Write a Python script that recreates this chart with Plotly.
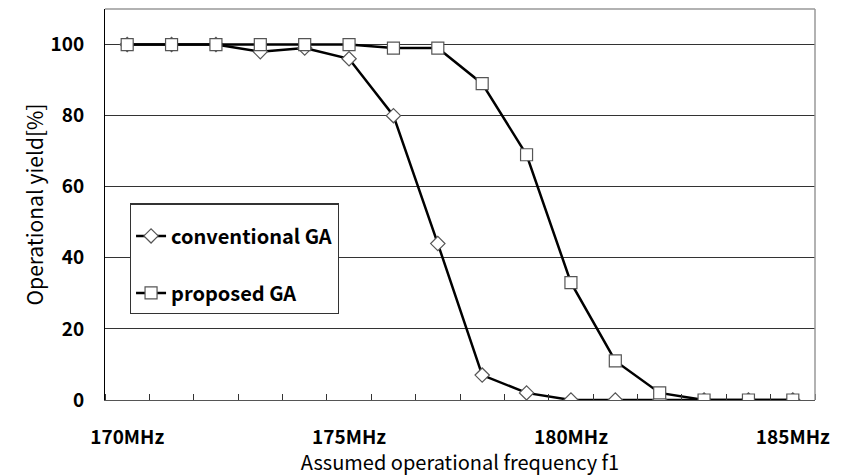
import plotly.graph_objects as go

freq_mhz = list(range(170, 186))
conventional = [100, 100, 100, 98, 99, 96, 80, 44, 7, 2, 0, 0, 0, 0, 0, 0]
proposed = [100, 100, 100, 100, 100, 100, 99, 99, 89, 69, 33, 11, 2, 0, 0, 0]
x_tick_vals = [170, 175, 180, 185]
x_tick_text = ["170MHz", "175MHz", "180MHz", "185MHz"]
y_tick_vals = [0, 20, 40, 60, 80, 100]

FONT = "Noto Sans CJK JP"

fig = go.Figure()
fig.add_trace(go.Scatter(
    x=freq_mhz, y=conventional, name="conventional GA", mode="lines+markers",
    line=dict(color="black", width=2.5), legendgroup="a",
    marker=dict(symbol="diamond", size=11, color="white", line=dict(color="#555", width=1.2)),
))
fig.add_trace(go.Scatter(
    x=freq_mhz, y=proposed, name="proposed GA", mode="lines+markers",
    line=dict(color="black", width=2.5), legendgroup="b",
    marker=dict(symbol="square", size=12, color="white", line=dict(color="#555", width=1.2)),
))

# page body has an 8px margin; figure is sized/offset to compensate
fig.update_layout(
    width=840, height=468,
    margin=dict(l=97, t=1, r=33, b=76, autoexpand=False),
    paper_bgcolor="white", plot_bgcolor="white",
    font=dict(family=FONT, color="black"),
    legend=dict(
        x=0.035, y=0.5026, xref="paper", yref="paper",
        xanchor="left", yanchor="top",
        bordercolor="#333", borderwidth=1.2, bgcolor="white",
        font=dict(size=20, family=FONT, weight="bold"),
        title=dict(text=" ", font=dict(size=9)),
        traceorder="grouped", tracegroupgap=28,
    ),
    showlegend=True,
    xaxis=dict(
        range=[169.5, 185.5], tickvals=x_tick_vals, ticktext=x_tick_text,
        ticks="", showgrid=False, zeroline=False, automargin=False,
        showline=True, linecolor="#555", linewidth=1,
        ticklabelstandoff=20,
        tickfont=dict(size=19, family=FONT, weight="bold"),
        title=dict(text="Assumed operational frequency f1", font=dict(size=20, family=FONT), standoff=5),
        minor=dict(ticks="inside", tick0=170.5, dtick=1, ticklen=6, tickcolor="#333", showgrid=False),
    ),
    yaxis=dict(
        range=[0, 110], tickvals=y_tick_vals, ticks="", automargin=False,
        showgrid=True, gridcolor="#333", gridwidth=1, zeroline=False,
        showline=True, linecolor="black", linewidth=1,
        ticklabelstandoff=16,
        tickfont=dict(size=19, family=FONT, weight="bold"),
        title=dict(text="Operational yield[%]", font=dict(size=21, family=FONT), standoff=1),
    ),
    shapes=[
        dict(type="line", xref="paper", yref="paper", x0=0, x1=1, y0=1, y1=1, line=dict(color="#999", width=1.5)),
        dict(type="line", xref="paper", yref="paper", x0=1, x1=1, y0=0, y1=1, line=dict(color="#999", width=1.5)),
    ],
)

fig.write_html("out.html")
